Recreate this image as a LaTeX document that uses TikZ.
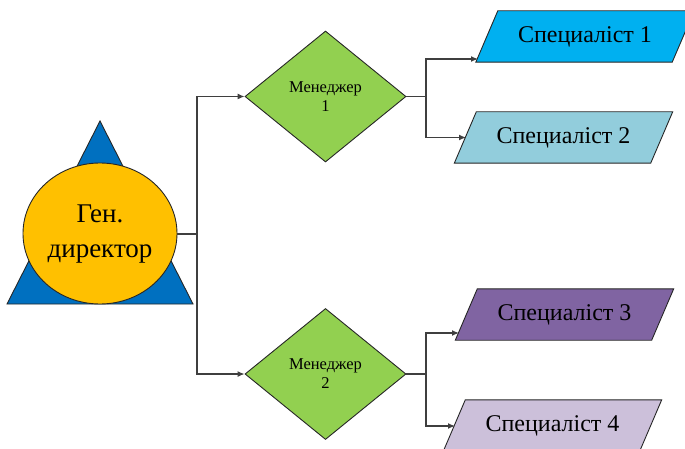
\documentclass[tikz,border=0pt]{standalone}
\usepackage{fontspec}
\setmainfont{Liberation Serif}
\usetikzlibrary{shapes.geometric,arrows.meta}

\definecolor{triblue}{HTML}{0070C0}
\definecolor{chiefgold}{HTML}{FFC000}
\definecolor{mgrgreen}{HTML}{92D050}
\definecolor{sponeblue}{HTML}{00B0F0}
\definecolor{sptwoblue}{HTML}{92CDDC}
\definecolor{spthreeviolet}{HTML}{8064A2}
\definecolor{spfourlilac}{HTML}{CCC0DA}
\definecolor{wire}{HTML}{3F3F3F}

\pgfdeclarelayer{back}
\pgfsetlayers{back,main}

\tikzset{
  outline/.style={draw=black!85, line width=0.9pt},
  chief/.style={outline, ellipse, fill=chiefgold, minimum width=154pt, minimum height=141pt,
    inner sep=0pt, align=center, font=\fontsize{27}{31}\selectfont},
  manager/.style={outline, diamond, fill=mgrgreen, minimum width=161pt, minimum height=131pt,
    inner sep=0pt, align=center, font=\fontsize{16.5}{19}\selectfont},
  specialist/.style={rectangle, minimum width=196pt, minimum height=51pt, inner sep=0pt,
    font=\fontsize{24}{28}\selectfont},
  link/.style={draw=wire, line width=1.2pt},
  feed/.style={link, -{Latex[length=7pt,width=6pt]}}
}

% parallelogram frame round a specialist node, leaning right by 2x11pt
\newcommand\slantframe[2]{%
  \begin{pgfonlayer}{back}
    \draw[outline, fill=#2]
      ([xshift=-11pt]#1.south west) -- ([xshift=-11pt]#1.south east) --
      ([xshift=11pt]#1.north east) -- ([xshift=11pt]#1.north west) -- cycle;
  \end{pgfonlayer}}

\begin{document}
\begin{tikzpicture}[x=1pt,y=-1pt]
\useasboundingbox (0,0) rectangle (685,449);

% backdrop triangle behind the director
\draw[outline, fill=triblue] (100,121) -- (193,304) -- (7,304) -- cycle;

% director
\node[chief] (gd) at (100,233.5) {\raisebox{-2.5pt}{\begin{tabular}{@{}c@{}}Ген.\\[4pt]директор\end{tabular}}};

% managers
\node[manager] (m1) at (325.5,96.5) {Менеджер\\1};
\node[manager] (m2) at (325.5,374) {Менеджер\\2};

% specialists
\node[specialist] (s1) at (585,36.5) {Специаліст 1};
\node[specialist] (s2) at (563.5,137.5) {Специаліст 2};
\node[specialist] (s3) at (564.5,314.5) {Специаліст 3};
\node[specialist] (s4) at (552.5,425.5) {Специаліст 4};
\slantframe{s1}{sponeblue}
\slantframe{s2}{sptwoblue}
\slantframe{s3}{spthreeviolet}
\slantframe{s4}{spfourlilac}

% junctions and arrow ends
\coordinate (j0) at (197,233.5);
\coordinate (j1) at (426,96.5);
\coordinate (j2) at (426,374);
\coordinate (s1in) at (478,59);
\coordinate (s2in) at (466,137.5);
\coordinate (s3in) at (459,333);
\coordinate (s4in) at (455,426);

% director to managers
\draw[link, line width=2pt] (gd.east) -- (j0);
\draw[feed] (j0) |- (m1.west);
\draw[feed] (j0) |- (m2.west);

% managers to specialists
\draw[link] (m1.east) -- (j1);
\draw[feed] (j1) |- (s1in);
\draw[feed] (j1) |- (s2in);
\draw[link] (m2.east) -- (j2);
\draw[feed] (j2) |- (s3in);
\draw[feed] (j2) |- (s4in);
\end{tikzpicture}
\end{document}
